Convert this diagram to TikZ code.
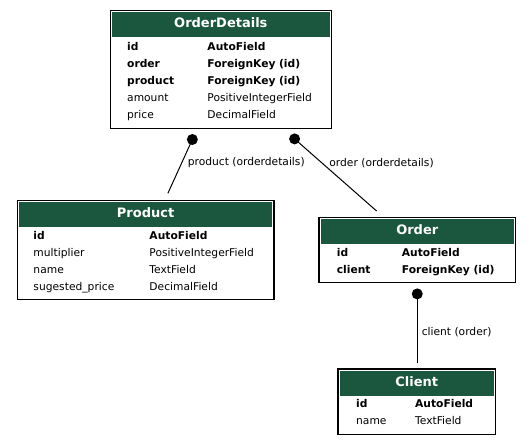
\documentclass[tikz,border=0pt]{standalone}
\usepackage{fontspec}
\setmainfont{DejaVu Sans}
\usetikzlibrary{positioning}
\definecolor{HeadGreen}{RGB}{27, 86, 63}
\newcommand{\colname}[2]{\makebox[#1][l]{#2}}

\begin{document}
\begin{tikzpicture}[x=1pt,y=1pt,node distance=17pt]
\tikzstyle{table} = [rectangle, draw, line width=1.2pt, inner sep=0pt, anchor=north west]
\tikzstyle{head} = [rectangle, fill=HeadGreen, text=white, inner sep=0pt, anchor=north,
    font=\bfseries\fontsize{13}{15}\selectfont, minimum height=25pt, text height=9.5pt, text depth=3pt]
\tikzstyle{row} = [inner sep=0pt, anchor=base west, align=left,
    font=\fontsize{10.7}{13}\selectfont, text height=8pt, text depth=2.5pt]
\tikzstyle{conn} = [inner sep=0pt, anchor=base west, font=\fontsize{10.7}{13}\selectfont]
\tikzstyle{line} = [draw, line width=1pt]

\useasboundingbox [fill=white] (0,0) rectangle (531,-445);

\node [table, minimum width=221.5pt, minimum height=117.5pt] (details) at (109.5,-10) {};
\node [head, minimum width=217.5pt] (detailsHead) at ([yshift=-2pt]details.north) {OrderDetails};
\node [row, text width=190pt] (d1) at ([xshift=17.5pt,yshift=-40pt]details.north west) {\bfseries\colname{80.3pt}{id}AutoField};
\node [row, text width=190pt, below of=d1] (d2) {\bfseries\colname{80.3pt}{order}ForeignKey (id)};
\node [row, text width=190pt, below of=d2] (d3) {\bfseries\colname{80.3pt}{product}ForeignKey (id)};
\node [row, text width=190pt, below of=d3] (d4) {\colname{80.3pt}{amount}PositiveIntegerField};
\node [row, text width=190pt, below of=d4] (d5) {\colname{80.3pt}{price}DecimalField};
%
\node [table, minimum width=256.6pt, minimum height=99pt] (product) at (16.7,-200) {};
\node [head, minimum width=252.6pt] (productHead) at ([yshift=-2pt]product.north) {Product};
\node [row, text width=230pt] (p1) at ([xshift=16.6pt,yshift=-39.5pt]product.north west) {\bfseries\colname{116pt}{id}AutoField};
\node [row, text width=230pt, below of=p1] (p2) {\colname{116pt}{multiplier}PositiveIntegerField};
\node [row, text width=230pt, below of=p2] (p3) {\colname{116pt}{name}TextField};
\node [row, text width=230pt, below of=p3] (p4) {\colname{116pt}{sugested\_price}DecimalField};
%
\node [table, minimum width=196.7pt, minimum height=65pt] (order) at (318.3,-216.7) {};
\node [head, minimum width=192.7pt] (orderHead) at ([yshift=-2pt]order.north) {Order};
\node [row, text width=170pt] (o1) at ([xshift=18.4pt,yshift=-40pt]order.north west) {\bfseries\colname{65pt}{id}AutoField};
\node [row, text width=170pt, below of=o1] (o2) {\bfseries\colname{65pt}{client}ForeignKey (id)};
%
\node [table, minimum width=157.7pt, minimum height=65.7pt] (client) at (337.3,-368.3) {};
\node [head, minimum width=153.7pt] (clientHead) at ([yshift=-2pt]client.north) {Client};
\node [row, text width=130pt] (c1) at ([xshift=18.7pt,yshift=-39pt]client.north west) {\bfseries\colname{59pt}{id}AutoField};
\node [row, text width=130pt, below of=c1] (c2) {\colname{59pt}{name}TextField};
%
\coordinate (pdot) at ([xshift=-28.5pt,yshift=-10.8pt]details.south);
\coordinate (odot) at ([xshift=73.75pt,yshift=-10.2pt]details.south);
\coordinate (cdot) at ([xshift=0pt,yshift=-11pt]order.south);
\coordinate (pend) at ([xshift=22.3pt,yshift=6.7pt]product.north);
\coordinate (oend) at ([xshift=-40.65pt,yshift=5.7pt]order.north);
\coordinate (cend) at ([xshift=0.5pt,yshift=5.6pt]client.north);
\fill (pdot) circle (5.5pt);
\fill (odot) circle (5.5pt);
\fill (cdot) circle (5.5pt);
\path [line] (pdot) -- node [conn, pos=0.485, xshift=6.8pt] (pname) {product (orderdetails)} (pend);
\path [line] (odot) -- node [conn, pos=0.376, xshift=3.5pt] (oname) {order (orderdetails)} (oend);
\path [line] (cdot) -- node [conn, pos=0.604, xshift=4pt] (cname) {client (order)} (cend);

\end{tikzpicture}
\end{document}
